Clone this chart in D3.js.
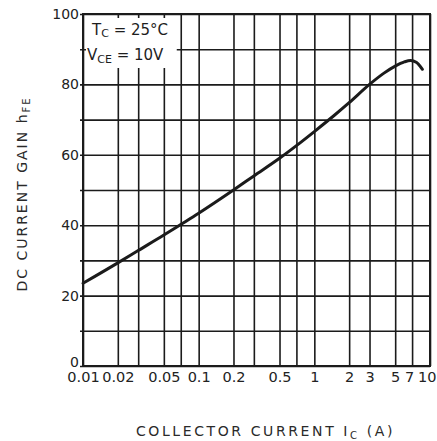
<!DOCTYPE html>
<html>
<head>
<meta charset="utf-8">
<script src="https://cdn.jsdelivr.net/npm/d3@7"></script>
<style>
  html, body { margin: 0; padding: 0; background: #fff; }
  svg { display: block; font-family: "DejaVu Sans", sans-serif; }
</style>
</head>
<body>
<svg id="chart" width="437" height="441"></svg>
<script>
// Collector current (A) and DC current gain hFE along the curve
const collectorCurrent = [0.01, 0.02, 0.03, 0.05, 0.07, 0.1, 0.2, 0.3, 0.5, 0.7, 1, 1.5, 2, 3, 4, 5, 6, 6.8, 7.6, 8.6];
const currentGain      = [23.5, 29.3, 32.8, 37.2, 40.2, 43.4, 50, 54, 59, 62.6, 66.6, 71.3, 74.8, 80, 83.2, 85.2, 86.4, 86.8, 86.3, 84.3];

// Axis ticks, labels and grid divisions
const xLabelTicks = [0.01, 0.02, 0.05, 0.1, 0.2, 0.5, 1, 2, 3, 5, 7, 10];
const xGridTicks  = [0.01, 0.02, 0.03, 0.05, 0.07, 0.1, 0.2, 0.3, 0.5, 0.7, 1, 2, 3, 5, 7, 10];
const yLabelTicks = [0, 20, 40, 60, 80, 100];
const yGridTicks  = [0, 10, 20, 30, 40, 50, 60, 70, 80, 90, 100];

const ink = "#1b1b1b";
const svg = d3.select("#chart");

const plotL = 83, plotR = 430, plotT = 14, plotB = 366;
const x = d3.scaleLog().domain([0.01, 10]).range([plotL, plotR]);
const y = d3.scaleLinear().domain([0, 100]).range([plotB, plotT]);

// Vertical grid + x tick labels
const xAxis = d3.axisBottom(x)
  .tickValues(xGridTicks)
  .tickSizeInner(-(plotB - plotT))
  .tickSizeOuter(0)
  .tickPadding(6)
  .tickFormat(d => xLabelTicks.includes(d) ? String(d) : "");

const gx = svg.append("g")
  .attr("transform", `translate(0,${plotB})`)
  .call(xAxis);
gx.select(".domain").remove();
gx.selectAll(".tick line").attr("stroke", ink).attr("stroke-width", 1.6);
gx.selectAll(".tick text")
  .attr("fill", "#222")
  .attr("font-size", 14.5)
  .attr("font-family", "DejaVu Sans, sans-serif");
// the crowded labels at the right end are nudged apart
gx.selectAll(".tick text")
  .filter(d => d === 7)
  .attr("x", -3);
gx.selectAll(".tick text")
  .filter(d => d === 10)
  .attr("text-anchor", "end")
  .attr("x", 6);

// Horizontal grid + y tick labels
const yAxis = d3.axisLeft(y)
  .tickValues(yGridTicks)
  .tickSizeInner(-(plotR - plotL))
  .tickSizeOuter(0)
  .tickPadding(4)
  .tickFormat(d => yLabelTicks.includes(d) ? String(d) : "");

const gy = svg.append("g")
  .attr("transform", `translate(${plotL},0)`)
  .call(yAxis);
gy.select(".domain").remove();
gy.selectAll(".tick line")
  .attr("stroke", ink).attr("stroke-width", 1.6)
  .attr("x1", -3);
gy.selectAll(".tick text")
  .attr("fill", "#222")
  .attr("font-size", 14)
  .attr("font-family", "DejaVu Sans, sans-serif")
  .attr("dy", d => d === 0 ? "0.05em" : "0.32em");

// Condition box in the upper-left corner clears the grid behind its text
svg.append("rect")
  .attr("x", plotL + 3).attr("y", plotT + 4)
  .attr("width", x(0.07) - plotL - 7).attr("height", 50)
  .attr("fill", "#fff");

// Plot frame
svg.append("rect")
  .attr("x", plotL).attr("y", plotT)
  .attr("width", plotR - plotL).attr("height", plotB - plotT)
  .attr("fill", "none").attr("stroke", ink).attr("stroke-width", 2);

// hFE curve
const line = d3.line()
  .x((d, i) => x(collectorCurrent[i]))
  .y(d => y(d))
  .curve(d3.curveMonotoneX);

svg.append("path")
  .datum(currentGain)
  .attr("d", line)
  .attr("fill", "none")
  .attr("stroke", ink)
  .attr("stroke-width", 3)
  .attr("stroke-linecap", "round");

// Test conditions
const cond = svg.append("g").attr("fill", "#1e1e1e").attr("font-size", 15);
const t1 = cond.append("text").attr("x", 92).attr("y", 35);
t1.append("tspan").text("T");
t1.append("tspan").attr("font-size", 11).attr("dy", 2).text("C");
t1.append("tspan").attr("dy", -2).text(" = 25°C");

const t2 = cond.append("text").attr("x", 87).attr("y", 60);
t2.append("tspan").text("V");
t2.append("tspan").attr("font-size", 11).attr("dy", 3).text("CE");
t2.append("tspan").attr("dy", -3).text(" = 10V");

// Axis titles
const xt = svg.append("text")
  .attr("x", (133 + 398) / 2).attr("y", 436)
  .attr("text-anchor", "middle")
  .attr("font-size", 14).attr("letter-spacing", 2.6)
  .attr("fill", "#2a2a2a");
xt.append("tspan").text("COLLECTOR CURRENT I");
xt.append("tspan").attr("font-size", 10).attr("dy", 3).text("C");
xt.append("tspan").attr("dy", -3).text(" (A)");

const yt = svg.append("text")
  .attr("transform", "translate(27,194) rotate(-90)")
  .attr("text-anchor", "middle")
  .attr("font-size", 14).attr("letter-spacing", 2)
  .attr("fill", "#2a2a2a");
yt.append("tspan").text("DC CURRENT GAIN h");
yt.append("tspan").attr("font-size", 10).attr("dy", 3).text("FE");
</script>
</body>
</html>
